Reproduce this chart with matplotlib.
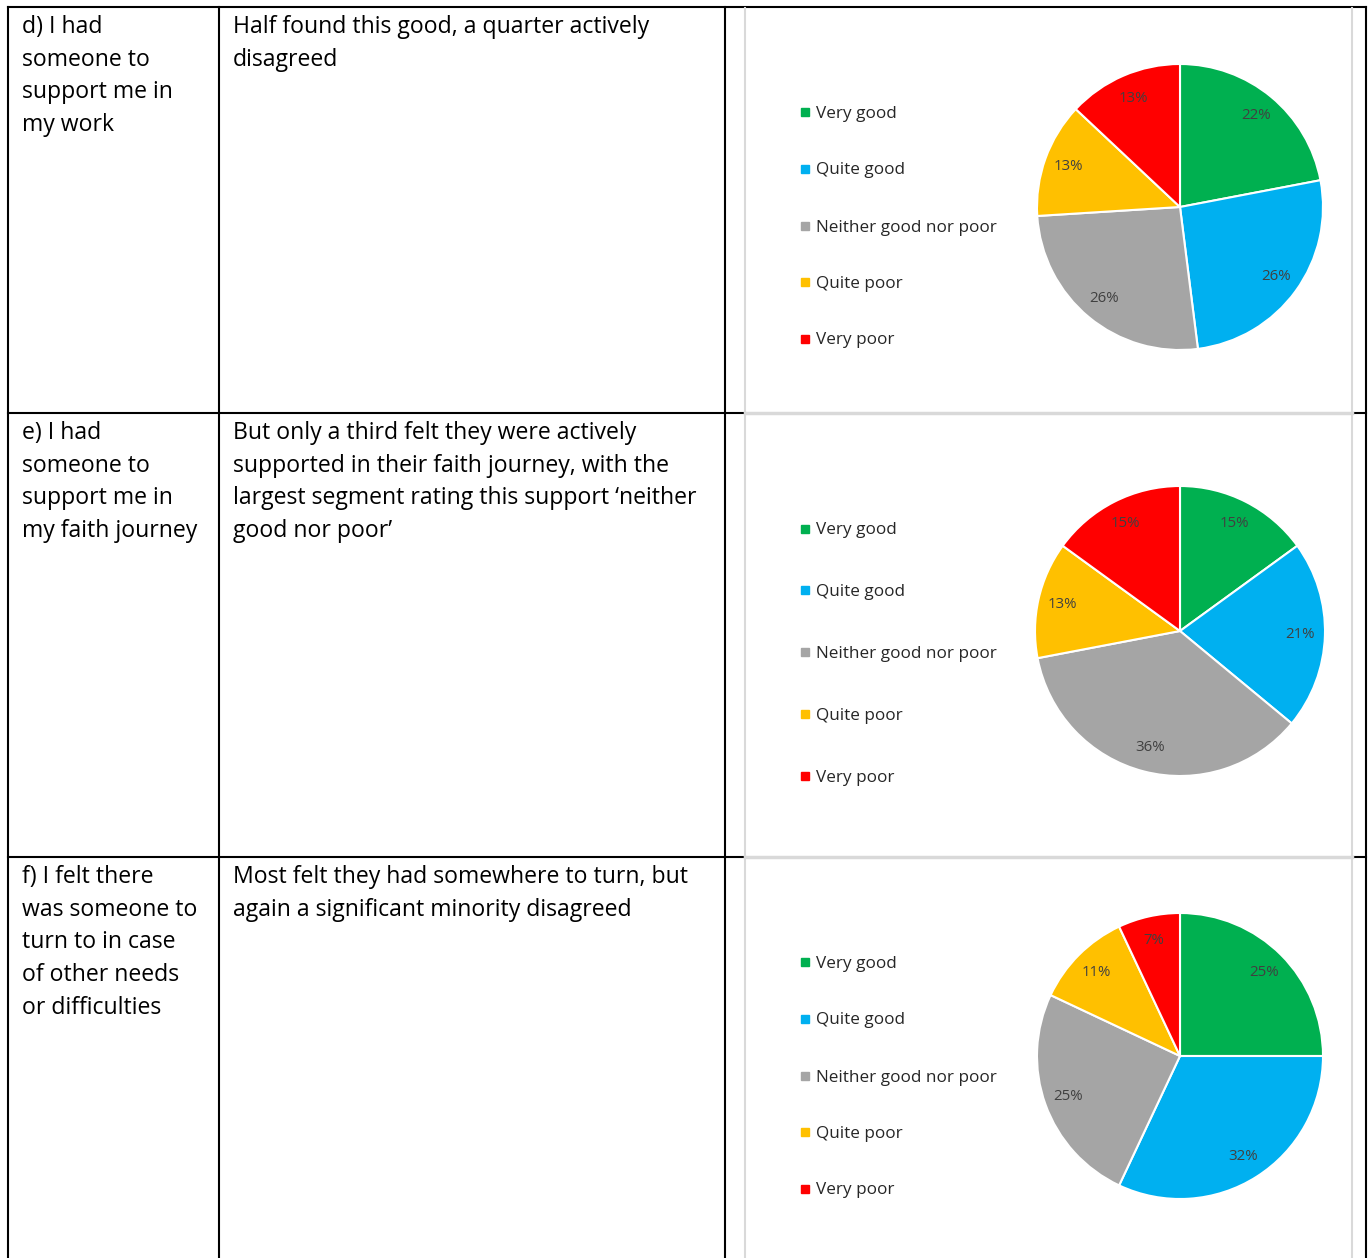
import matplotlib
matplotlib.use("Agg")
import matplotlib.pyplot as plt

plt.rcParams['font.family'] = ['Open Sans', 'DejaVu Sans']

# survey answers, in legend order
categories = ['Very good', 'Quite good', 'Neither good nor poor', 'Quite poor', 'Very poor']
colors = ['#00B050', '#00B0F0', '#A5A5A5', '#FFC000', '#FF0000']

support_work = [22, 26, 26, 13, 13]
support_faith = [15, 21, 36, 13, 15]
someone_to_turn = [25, 32, 25, 11, 7]

question_lines = [
    ['d) I had', 'someone to', 'support me in', 'my work'],
    ['e) I had', 'someone to', 'support me in', 'my faith journey'],
    ['f) I felt there', 'was someone to', 'turn to in case', 'of other needs', 'or difficulties'],
]
comment_lines = [
    ['Half found this good, a quarter actively', 'disagreed'],
    ['But only a third felt they were actively',
     'supported in their faith journey, with the',
     'largest segment rating this support \u2018neither',
     'good nor poor\u2019'],
    ['Most felt they had somewhere to turn, but',
     'again a significant minority disagreed'],
]
series = [support_work, support_faith, someone_to_turn]

W, H = 1370, 1258
fig = plt.figure(figsize=(W / 100, H / 100), dpi=100)
bg = fig.add_axes([0, 0, 1, 1])
bg.set_xlim(0, W)
bg.set_ylim(H, 0)
bg.axis('off')

# table grid (pixel coordinates)
row_top = [7, 413, 857]
x_left, x_c1, x_c2, x_box0, x_box1, x_right = 8, 219, 725, 745, 1352, 1366
blk = dict(color='black', lw=1.5, solid_capstyle='projecting')
gry = dict(color='#D9D9D9', lw=1.5)

bg.plot([x_left, x_right], [7, 7], **blk)
for x in [x_left, x_c1, x_c2, x_right]:
    bg.plot([x, x], [7, H + 5], **blk)
for y in row_top[1:]:
    bg.plot([x_left, x_box0], [y, y], **blk)
    bg.plot([x_box1, x_right], [y, y], **blk)
    bg.plot([x_box0, x_box1], [y, y], color='#D9D9D9', lw=2.5)
for x in [x_box0, x_box1]:
    bg.plot([x, x], [8, H + 5], **gry)

# cell text
line_step = 32.7
for i in range(3):
    y0 = row_top[i] + 20
    for j, s in enumerate(question_lines[i]):
        bg.text(22, y0 + j * line_step, s, fontsize=16.6, va='center', ha='left', color='#000000')
    for j, s in enumerate(comment_lines[i]):
        bg.text(233, y0 + j * line_step, s, fontsize=16.6, va='center', ha='left', color='#000000')

# pie charts with legends
pie_centers = [(1180, 207), (1180, 631), (1180, 1056)]
pie_radius = [143, 145, 143]
legend_rows = [[112, 169, 226, 282, 339],
               [529, 590, 652, 714, 776],
               [962, 1019, 1076, 1132, 1189]]

for i, vals in enumerate(series):
    cx, cy = pie_centers[i]
    r = pie_radius[i]
    ax = fig.add_axes([(cx - r) / W, 1 - (cy + r) / H, 2 * r / W, 2 * r / H])
    ax.pie(vals, colors=colors, startangle=90, counterclock=False,
           autopct=lambda p: '%d%%' % round(p), pctdistance=0.83,
           wedgeprops=dict(edgecolor='white', linewidth=1.5),
           textprops=dict(color='#404040', fontsize=10.8))
    ax.set_xlim(-1, 1)
    ax.set_ylim(-1, 1)

    for k, name in enumerate(categories):
        y = legend_rows[i][k]
        bg.plot(805, y, marker='s', markersize=5.2, color=colors[k], linestyle='none')
        bg.text(816, y + 1.5, name, fontsize=12.3, va='center', ha='left', color='#262626')

fig.savefig('out.png', dpi=100)
